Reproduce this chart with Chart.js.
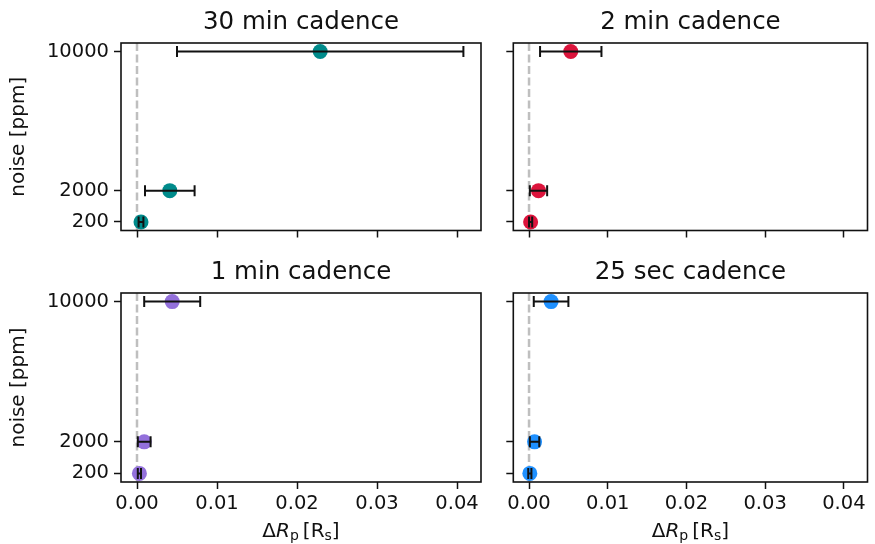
<!DOCTYPE html>
<html>
<head>
<meta charset="utf-8">
<script src="https://cdn.jsdelivr.net/npm/chart.js@4"></script>
<style>
  html, body { margin: 0; padding: 0; background: #fff; }
  #wrap { position: relative; width: 875px; height: 544px; }
  #wrap canvas { position: absolute; left: 0; top: 0; }
</style>
</head>
<body>
<div id="wrap">
  <canvas id="c30min" width="875" height="544"></canvas>
  <canvas id="c2min" width="875" height="544"></canvas>
  <canvas id="c1min" width="875" height="544"></canvas>
  <canvas id="c25sec" width="875" height="544"></canvas>
</div>
<script>
// noise levels (y) shared by all panels
const noiseLevels = [200, 2000, 10000];
const yTickValues = [200, 2000, 10000];
const xTickValues = [0, 0.01, 0.02, 0.03, 0.04];

// delta Rp and its (symmetric) error, one pair per cadence
const dRp30min = [0.0005, 0.0041, 0.0229];
const err30min = [0.0003, 0.0031, 0.0179];
const dRp2min = [0.0002, 0.0012, 0.0053];
const err2min = [0.0002, 0.0011, 0.0039];
const dRp1min = [0.0003, 0.0009, 0.0044];
const err1min = [0.0002, 0.0008, 0.0035];
const dRp25sec = [0.0001, 0.0007, 0.0028];
const err25sec = [0.0002, 0.0006, 0.0022];

const FONT = 'DejaVu Sans';

// dashed grey line at x = 0, under the points
const zeroLinePlugin = {
  id: 'zeroLine',
  beforeDatasetsDraw(chart) {
    const { ctx, chartArea, scales } = chart;
    const x = scales.x.getPixelForValue(0);
    ctx.save();
    ctx.strokeStyle = 'rgba(128,128,128,0.5)';
    ctx.lineWidth = 2.5;
    ctx.setLineDash([8, 3.5]);
    ctx.beginPath();
    ctx.moveTo(x, chartArea.top);
    ctx.lineTo(x, chartArea.bottom);
    ctx.stroke();
    ctx.restore();
  }
};

// horizontal error bars with caps
function errorBarPlugin(xs, errs) {
  return {
    id: 'errorBars',
    afterDatasetsDraw(chart) {
      const { ctx, scales } = chart;
      ctx.save();
      ctx.strokeStyle = '#111';
      ctx.lineWidth = 2;
      noiseLevels.forEach((n, i) => {
        const y = scales.y.getPixelForValue(n);
        const x0 = scales.x.getPixelForValue(xs[i] - errs[i]);
        const x1 = scales.x.getPixelForValue(xs[i] + errs[i]);
        ctx.beginPath();
        ctx.moveTo(x0, y); ctx.lineTo(x1, y);
        ctx.moveTo(x0, y - 5.5); ctx.lineTo(x0, y + 5.5);
        ctx.moveTo(x1, y - 5.5); ctx.lineTo(x1, y + 5.5);
        ctx.stroke();
      });
      ctx.restore();
    }
  };
}

// full box around the axes
const framePlugin = {
  id: 'frame',
  afterDraw(chart) {
    const { ctx, chartArea: a } = chart;
    ctx.save();
    ctx.strokeStyle = '#111';
    ctx.lineWidth = 1.6;
    ctx.strokeRect(a.left, a.top, a.right - a.left, a.bottom - a.top);
    ctx.restore();
  }
};

// x axis label: Delta R_p [R_s] with italic R and subscripts
const xTitlePlugin = {
  id: 'xTitle',
  afterDraw(chart) {
    const { ctx, chartArea: a } = chart;
    const parts = [
      { t: '\u0394', f: '20px "' + FONT + '"', dy: 0 },
      { t: 'R', f: 'oblique 20px "' + FONT + '"', dy: 0 },
      { t: 'p', f: '14px "' + FONT + '"', dy: 3 },
      { t: '\u2009[R', f: '20px "' + FONT + '"', dy: 0 },
      { t: 's', f: '14px "' + FONT + '"', dy: 3 },
      { t: ']', f: '20px "' + FONT + '"', dy: 0 }
    ];
    ctx.save();
    ctx.fillStyle = '#111';
    ctx.textBaseline = 'alphabetic';
    let total = 0;
    parts.forEach(p => { ctx.font = p.f; p.w = ctx.measureText(p.t).width; total += p.w; });
    let x = (a.left + a.right) / 2 - total / 2;
    const base = 537;
    parts.forEach(p => {
      ctx.font = p.f;
      ctx.fillText(p.t, x, base + p.dy);
      x += p.w;
    });
    ctx.restore();
  }
};

function makePanel(id, title, color, xs, errs, area, showXLabels, showYLabels) {
  const yW = showYLabels ? 114 : 7;
  const xH = showXLabels ? 62 : 7;
  const titleBox = 24.5 * 1.2 + 6;
  const plugins = [zeroLinePlugin, errorBarPlugin(xs, errs), framePlugin];
  if (showXLabels) plugins.push(xTitlePlugin);

  new Chart(document.getElementById(id), {
    type: 'scatter',
    data: {
      datasets: [{
        data: noiseLevels.map((n, i) => ({ x: xs[i], y: n })),
        backgroundColor: color,
        borderWidth: 0,
        pointRadius: 7.5,
        pointHoverRadius: 7.5
      }]
    },
    options: {
      responsive: false,
      animation: false,
      devicePixelRatio: 1,
      layout: {
        padding: {
          left: area.left - yW,
          right: 875 - area.right,
          top: area.top - titleBox,
          bottom: 544 - area.bottom - xH
        }
      },
      plugins: {
        legend: { display: false },
        tooltip: { enabled: false },
        title: {
          display: true,
          text: title,
          fullSize: false,
          color: '#111',
          font: { family: FONT, size: 24.5, weight: 'normal', lineHeight: 1.2 },
          padding: { top: 0, bottom: 6 }
        }
      },
      scales: {
        x: {
          type: 'linear',
          min: -0.002,
          max: 0.043,
          afterBuildTicks: s => { s.ticks = xTickValues.map(v => ({ value: v })); },
          afterFit: s => { s.height = xH; },
          border: { display: false },
          grid: { display: true, drawOnChartArea: false, drawTicks: true, tickLength: 7, tickWidth: 1.5, tickColor: '#111' },
          ticks: {
            display: showXLabels,
            color: '#111',
            padding: 3,
            maxRotation: 0,
            font: { family: FONT, size: 19.5 },
            callback: v => v.toFixed(2)
          }
        },
        y: {
          type: 'linear',
          min: -290,
          max: 10490,
          afterBuildTicks: s => { s.ticks = yTickValues.map(v => ({ value: v })); },
          afterFit: s => { s.width = yW; },
          border: { display: false },
          grid: { display: true, drawOnChartArea: false, drawTicks: true, tickLength: 7, tickWidth: 1.5, tickColor: '#111' },
          title: {
            display: showYLabels,
            text: 'noise [ppm]',
            color: '#111',
            font: { family: FONT, size: 20 },
            padding: { top: 0, bottom: 0 }
          },
          ticks: {
            display: showYLabels,
            color: '#111',
            padding: 5,
            font: { family: FONT, size: 19.5 },
            callback: v => String(v)
          }
        }
      }
    },
    plugins: plugins
  });
}

makePanel('c30min', '30 min cadence', '#008b8b', dRp30min, err30min,
  { left: 121, right: 481, top: 43, bottom: 230.5 }, false, true);
makePanel('c2min', '2 min cadence', '#dc143c', dRp2min, err2min,
  { left: 513.3, right: 872, top: 43, bottom: 230.5 }, false, false);
makePanel('c1min', '1 min cadence', '#9370db', dRp1min, err1min,
  { left: 121, right: 481, top: 293, bottom: 482 }, true, true);
makePanel('c25sec', '25 sec cadence', '#1e90ff', dRp25sec, err25sec,
  { left: 513.3, right: 872, top: 293, bottom: 482 }, true, false);
</script>
</body>
</html>
